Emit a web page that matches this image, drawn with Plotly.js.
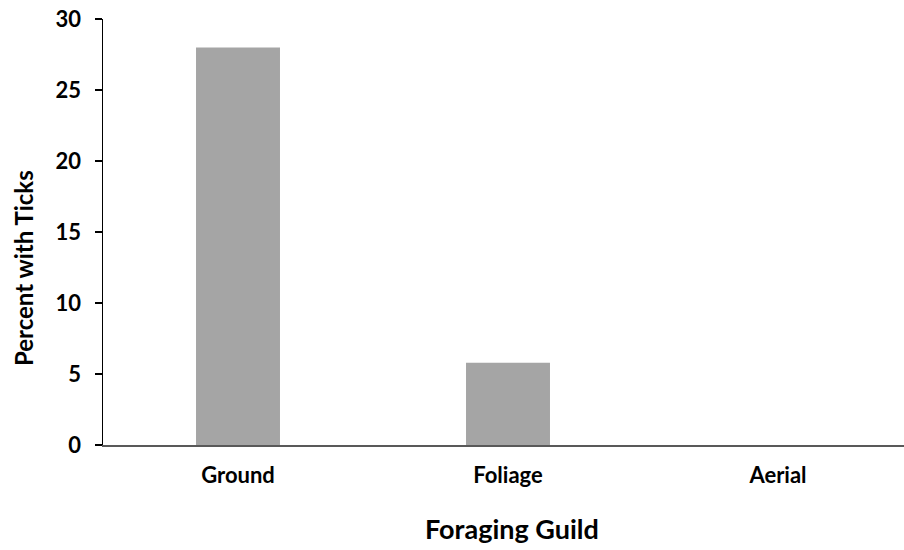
<!DOCTYPE html>
<html>
<head>
<meta charset="utf-8">
<script src="https://cdn.plot.ly/plotly-3.0.1.min.js"></script>
<style>
html,body{margin:0;padding:0;overflow:hidden;background:#fff;width:904px;height:550px;}
#chart{width:913px;height:550px;}
</style>
</head>
<body>
<div id="chart"></div>
<script>
const categories = ["Ground", "Foliage", "Aerial"];
const percentWithTicks = [28.0, 5.8, 0];
const yTickValues = [0, 5, 10, 15, 20, 25, 30];
const xTitle = "Foraging Guild";
const yTitle = "Percent with Ticks";

const font = "Lato, 'Open Sans', 'DejaVu Sans', sans-serif";

const trace = {
  type: "bar",
  x: categories,
  y: percentWithTicks,
  width: 0.311,
  marker: {color: "#a5a5a5", line: {width: 0}},
  hoverinfo: "x+y"
};

const layout = {
  width: 913,
  height: 550,
  margin: {l: 103, r: 0, t: 19, b: 105},
  paper_bgcolor: "#ffffff",
  plot_bgcolor: "#ffffff",
  showlegend: false,
  font: {family: font, color: "#000000"},
  xaxis: {
    type: "category",
    range: [-0.5, 2.5],
    showline: true,
    linecolor: "#595959",
    linewidth: 2,
    ticks: "",
    showgrid: false,
    zeroline: false,
    tickfont: {family: font, size: 22, color: "#000000", weight: "bold"},
    ticklabelstandoff: 10
  },
  yaxis: {
    range: [0, 30],
    tickvals: yTickValues,
    ticktext: yTickValues.map(String),
    showline: true,
    linecolor: "#000000",
    linewidth: 1.5,
    ticks: "outside",
    ticklen: 7,
    tickwidth: 1.5,
    tickcolor: "#000000",
    showgrid: false,
    zeroline: false,
    tickfont: {family: font, size: 22, color: "#000000", weight: "bold"},
    ticklabelstandoff: 9
  },
  annotations: [{
    text: yTitle,
    xref: "paper", yref: "paper",
    x: -0.0975, y: 0.4155,
    xanchor: "center", yanchor: "middle",
    textangle: -90,
    showarrow: false,
    font: {family: font, size: 24, color: "#000000", weight: "bold"}
  }, {
    text: xTitle,
    xref: "paper", yref: "paper",
    x: 0.505, y: -0.195,
    xanchor: "center", yanchor: "middle",
    showarrow: false,
    font: {family: font, size: 27, color: "#000000", weight: "bold"}
  }]
};

Plotly.newPlot("chart", [trace], layout, {displayModeBar: false, staticPlot: true});
</script>
</body>
</html>
